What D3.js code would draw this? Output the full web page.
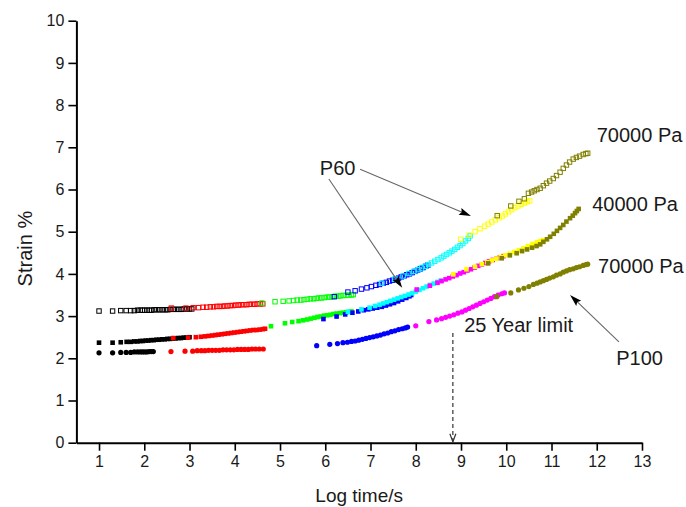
<!DOCTYPE html>
<html><head><meta charset="utf-8">
<script src="https://cdn.jsdelivr.net/npm/d3@7"></script>
<style>
body{margin:0;background:#fff}
svg{display:block}
text{font-family:"Liberation Sans",Arial,sans-serif;fill:#1a1a1a}
</style>
</head><body><svg id="c" width="686" height="507"></svg>
<script>
// ---------------- DATA (log time, strain %) ----------------
const xTicks = [1,2,3,4,5,6,7,8,9,10,11,12,13];
const xMinorTicks = [1.5,2.5,3.5,4.5,5.5,6.5,7.5,8.5,9.5,10.5,11.5,12.5];
const yTicks = [0,1,2,3,4,5,6,7,8,9,10];
const yMinorTicks = [0.5,1.5,2.5,3.5,4.5,5.5,6.5,7.5,8.5,9.5];

// P60, 70000 Pa (hollow squares)
const p60hi_black = [[1.00,3.12],[1.30,3.12],[1.48,3.13],[1.60,3.13],[1.70,3.13],[1.78,3.13],[1.85,3.14],[1.91,3.14],[1.96,3.14],[2.01,3.14],[2.06,3.14],[2.11,3.14],[2.16,3.14],[2.22,3.15],[2.28,3.15],[2.34,3.15],[2.40,3.15],[2.46,3.15],[2.52,3.15],[2.58,3.16],[2.64,3.16],[2.70,3.16],[2.76,3.16],[2.82,3.16],[2.88,3.17],[2.94,3.17],[3.00,3.17],[3.05,3.17]];
const p60hi_red = [[2.60,3.19],[2.92,3.19],[3.08,3.20],[3.20,3.20],[3.30,3.21],[3.38,3.21],[3.46,3.22],[3.53,3.22],[3.60,3.23],[3.66,3.23],[3.72,3.23],[3.78,3.24],[3.84,3.24],[3.90,3.25],[3.96,3.25],[4.02,3.26],[4.08,3.26],[4.14,3.27],[4.20,3.27],[4.26,3.27],[4.32,3.28],[4.38,3.28],[4.44,3.28],[4.50,3.29],[4.56,3.29],[4.62,3.29]];
const p60hi_green = [[4.60,3.31],[4.89,3.34],[5.07,3.35],[5.20,3.36],[5.30,3.37],[5.38,3.38],[5.46,3.38],[5.53,3.39],[5.60,3.40],[5.67,3.41],[5.74,3.41],[5.80,3.42],[5.86,3.43],[5.92,3.43],[5.98,3.44],[6.04,3.45],[6.10,3.45],[6.16,3.46],[6.22,3.47],[6.28,3.47],[6.34,3.48],[6.40,3.49],[6.46,3.49],[6.52,3.50],[6.58,3.50],[6.62,3.51]];
const p60hi_blue = [[6.20,3.46],[6.50,3.57],[6.66,3.60],[6.80,3.64],[6.92,3.67],[7.02,3.70],[7.12,3.73],[7.20,3.75],[7.28,3.78],[7.35,3.80],[7.42,3.83],[7.49,3.85],[7.56,3.88],[7.62,3.90],[7.68,3.93],[7.74,3.95],[7.80,3.98],[7.86,4.00],[7.92,4.03],[7.98,4.06],[8.04,4.09],[8.10,4.12],[8.16,4.15],[8.22,4.18],[8.27,4.21]];
const p60hi_cyan = [[7.25,3.78],[7.54,3.88],[7.72,3.95],[7.85,4.01],[7.96,4.06],[8.05,4.10],[8.13,4.14],[8.21,4.18],[8.28,4.22],[8.35,4.26],[8.42,4.30],[8.49,4.34],[8.56,4.38],[8.62,4.42],[8.68,4.46],[8.74,4.50],[8.80,4.54],[8.86,4.58],[8.92,4.63],[8.98,4.67],[9.04,4.72],[9.10,4.78],[9.16,4.84],[9.20,4.90]];
const p60hi_yellow = [[8.99,4.82],[9.18,4.92],[9.31,5.00],[9.42,5.07],[9.52,5.13],[9.60,5.18],[9.68,5.23],[9.76,5.28],[9.84,5.33],[9.91,5.37],[9.98,5.42],[10.05,5.47],[10.12,5.52],[10.19,5.57],[10.26,5.61],[10.33,5.65],[10.40,5.68],[10.46,5.71],[10.52,5.73]];
const p60hi_olive = [[9.80,5.38],[10.10,5.61],[10.28,5.72],[10.40,5.78],[10.49,5.91],[10.56,5.94],[10.62,5.97],[10.68,6.00],[10.75,6.03],[10.82,6.09],[10.89,6.15],[10.96,6.20],[11.04,6.26],[11.11,6.33],[11.19,6.41],[11.26,6.50],[11.33,6.58],[11.40,6.65],[11.48,6.72],[11.55,6.76],[11.62,6.79],[11.70,6.83],[11.76,6.85],[11.80,6.86]];

// P60, 40000 Pa (filled squares)
const p60lo_black = [[1.00,2.37],[1.30,2.37],[1.48,2.38],[1.61,2.39],[1.70,2.39],[1.78,2.40],[1.85,2.40],[1.91,2.41],[1.97,2.41],[2.03,2.42],[2.09,2.42],[2.15,2.43],[2.21,2.43],[2.27,2.44],[2.33,2.44],[2.39,2.45],[2.45,2.45],[2.51,2.46],[2.57,2.46],[2.63,2.47],[2.69,2.47],[2.75,2.48],[2.81,2.48],[2.87,2.49],[2.93,2.49],[3.00,2.50]];
const p60lo_red = [[2.64,2.48],[2.97,2.49],[3.14,2.50],[3.25,2.51],[3.34,2.52],[3.42,2.53],[3.50,2.54],[3.57,2.55],[3.64,2.56],[3.71,2.57],[3.78,2.58],[3.85,2.59],[3.92,2.60],[3.99,2.61],[4.06,2.62],[4.13,2.63],[4.20,2.64],[4.27,2.65],[4.34,2.66],[4.41,2.67],[4.48,2.67],[4.55,2.68],[4.62,2.69],[4.67,2.70]];
const p60lo_green = [[4.80,2.76],[5.11,2.83],[5.27,2.86],[5.41,2.88],[5.51,2.90],[5.60,2.92],[5.68,2.94],[5.76,2.96],[5.83,2.98],[5.90,2.99],[5.97,3.01],[6.04,3.02],[6.11,3.03],[6.18,3.05],[6.25,3.06],[6.32,3.07],[6.39,3.08],[6.46,3.09],[6.52,3.10],[6.58,3.11]];
const p60lo_blue = [[5.96,2.93],[6.25,2.99],[6.44,3.04],[6.60,3.08],[6.73,3.11],[6.85,3.14],[6.95,3.16],[7.05,3.18],[7.15,3.20],[7.25,3.22],[7.34,3.25],[7.43,3.28],[7.52,3.31],[7.61,3.35],[7.70,3.39],[7.79,3.43],[7.86,3.47],[7.90,3.50]];
const p60lo_cyan = [[6.50,3.10],[6.80,3.16],[6.98,3.20],[7.10,3.24],[7.20,3.27],[7.28,3.30],[7.36,3.33],[7.44,3.36],[7.52,3.39],[7.60,3.42],[7.68,3.45],[7.76,3.48],[7.84,3.51],[7.92,3.54],[8.00,3.58],[8.08,3.62],[8.16,3.66],[8.24,3.70],[8.32,3.74],[8.40,3.77],[8.48,3.81],[8.55,3.84]];
const p60lo_magenta = [[8.02,3.63],[8.31,3.72],[8.48,3.79],[8.57,3.83],[8.66,3.87],[8.74,3.90],[8.82,3.94],[8.90,3.97],[8.98,4.01],[9.06,4.04],[9.14,4.08],[9.22,4.11],[9.30,4.15],[9.38,4.19],[9.46,4.22],[9.54,4.26],[9.62,4.30],[9.70,4.33],[9.78,4.36],[9.86,4.39],[9.94,4.42]];
const p60lo_yellow = [[8.83,3.99],[9.12,4.11],[9.31,4.17],[9.46,4.23],[9.58,4.28],[9.68,4.32],[9.78,4.36],[9.88,4.40],[9.98,4.44],[10.08,4.48],[10.18,4.52],[10.28,4.56],[10.38,4.61],[10.48,4.66],[10.58,4.71],[10.68,4.75],[10.76,4.78],[10.82,4.80]];
const p60lo_olive = [[9.60,4.25],[9.90,4.37],[10.08,4.44],[10.23,4.49],[10.35,4.54],[10.46,4.58],[10.57,4.62],[10.67,4.66],[10.75,4.70],[10.82,4.76],[10.90,4.82],[10.97,4.88],[11.05,4.95],[11.12,5.02],[11.19,5.09],[11.26,5.16],[11.33,5.24],[11.41,5.32],[11.47,5.38],[11.52,5.44],[11.56,5.49],[11.60,5.54]];

// P100, 70000 Pa (filled circles)
const p100_black = [[1.00,2.13],[1.30,2.13],[1.48,2.14],[1.60,2.14],[1.70,2.14],[1.78,2.15],[1.85,2.15],[1.91,2.15],[1.96,2.15],[2.01,2.15],[2.06,2.15],[2.11,2.16],[2.16,2.16],[2.20,2.16]];
const p100_red = [[2.59,2.16],[2.90,2.17],[3.07,2.17],[3.17,2.18],[3.26,2.18],[3.34,2.18],[3.42,2.19],[3.50,2.19],[3.58,2.19],[3.66,2.19],[3.74,2.20],[3.82,2.20],[3.90,2.20],[3.98,2.20],[4.06,2.21],[4.14,2.21],[4.22,2.21],[4.30,2.21],[4.38,2.22],[4.46,2.22],[4.54,2.22],[4.63,2.22]];
const p100_blue = [[5.81,2.30],[6.10,2.33],[6.27,2.35],[6.39,2.37],[6.49,2.38],[6.58,2.40],[6.66,2.41],[6.74,2.43],[6.82,2.45],[6.90,2.47],[6.98,2.49],[7.06,2.51],[7.14,2.53],[7.22,2.55],[7.30,2.58],[7.38,2.60],[7.46,2.63],[7.54,2.65],[7.62,2.68],[7.70,2.70],[7.77,2.72],[7.82,2.74]];
const p100_magenta = [[8.00,2.77],[8.29,2.87],[8.46,2.91],[8.57,2.94],[8.66,2.97],[8.75,3.00],[8.84,3.03],[8.93,3.07],[9.02,3.10],[9.10,3.14],[9.18,3.18],[9.26,3.22],[9.34,3.26],[9.42,3.30],[9.50,3.34],[9.58,3.38],[9.66,3.42],[9.74,3.46],[9.82,3.50],[9.90,3.53],[9.96,3.55]];
const p100_olive = [[9.79,3.46],[10.10,3.55],[10.27,3.62],[10.39,3.66],[10.50,3.70],[10.60,3.75],[10.68,3.78],[10.75,3.81],[10.82,3.84],[10.89,3.87],[10.96,3.90],[11.04,3.93],[11.11,3.97],[11.19,4.00],[11.26,4.04],[11.33,4.07],[11.40,4.10],[11.48,4.12],[11.55,4.15],[11.62,4.17],[11.70,4.20],[11.76,4.22],[11.80,4.23]];

// Annotation texts (positions in data units: x = log time, y = strain)
const labelTexts = ["70000 Pa","40000 Pa","70000 Pa","P60","25 Year limit","P100"];
const labelX = [12.0, 11.9, 12.03, 5.88, 9.07, 12.43];
const labelY = [7.13, 5.49, 4.02, 6.34, 2.62, 1.84];
// Arrows [x1,y1,x2,y2] in data units
const arrowsP60 = [[6.77,6.48,9.22,5.37],[6.08,6.25,7.70,3.67]];
const arrowsP100 = [[12.49,2.39,11.41,3.50]];
const limitX = 8.82, limitTop = 2.6;

// ---------------- STYLES ----------------
const colors = {black:"#000000", red:"#ff0000", green:"#00ff00", blue:"#0000ff",
  cyan:"#00ffff", magenta:"#ff00ff", yellow:"#ffff00", olive:"#808000"};

const curves = [
  {marker:"hollow", segs:[["black",p60hi_black],["red",p60hi_red],["green",p60hi_green],["blue",p60hi_blue],["cyan",p60hi_cyan],["yellow",p60hi_yellow],["olive",p60hi_olive]]},
  {marker:"square", segs:[["black",p60lo_black],["red",p60lo_red],["green",p60lo_green],["blue",p60lo_blue],["cyan",p60lo_cyan],["magenta",p60lo_magenta],["yellow",p60lo_yellow],["olive",p60lo_olive]]},
  {marker:"circle", segs:[["black",p100_black],["red",p100_red],["blue",p100_blue],["magenta",p100_magenta],["olive",p100_olive]]}
];

// ---------------- CHART ----------------
const svg = d3.select("#c");
const x = d3.scaleLinear().domain([0.5,13]).range([76.4,642]);
const y = d3.scaleLinear().domain([0,10]).range([442.7,20.7]);

// axes
const gx = svg.append("g").attr("transform",`translate(0,${y(0)})`);
gx.call(d3.axisBottom(x).tickValues(xMinorTicks).tickSize(4).tickSizeOuter(0).tickFormat(""));
gx.call(d3.axisBottom(x).tickValues(xTicks).tickSize(8).tickSizeOuter(0).tickPadding(5).tickFormat(d3.format("d")));
const gy = svg.append("g").attr("transform",`translate(${x(0.5)},0)`);
gy.call(d3.axisLeft(y).tickValues(yMinorTicks).tickSize(4).tickSizeOuter(0).tickFormat(""));
gy.call(d3.axisLeft(y).tickValues(yTicks).tickSize(8).tickSizeOuter(0).tickPadding(4).tickFormat(d3.format("d")));
svg.selectAll(".domain").attr("stroke","#000").attr("stroke-width",2);
svg.selectAll(".tick line").attr("stroke","#000").attr("stroke-width",1.6);
svg.selectAll(".tick text").attr("font-size",16).attr("font-family",'"Liberation Sans",Arial,sans-serif').attr("fill","#1a1a1a");

// axis titles
svg.append("text").attr("x",(x(0.5)+x(13))/2).attr("y",502).attr("text-anchor","middle").attr("font-size",19).text("Log time/s");
svg.append("text").attr("transform",`translate(32,${y(4.6)}) rotate(-90)`).attr("text-anchor","middle").attr("font-size",20).text("Strain %");

// data markers
const gp = svg.append("g");
curves.forEach(c=>{
  c.segs.forEach(([col,data])=>{
    const g = gp.append("g");
    if(c.marker==="circle"){
      g.selectAll("circle").data(data).join("circle")
        .attr("cx",d=>x(d[0])).attr("cy",d=>y(d[1])).attr("r",2.6).attr("fill",colors[col]);
    } else if(c.marker==="square"){
      g.selectAll("rect").data(data).join("rect")
        .attr("x",d=>x(d[0])-2.3).attr("y",d=>y(d[1])-2.3).attr("width",4.6).attr("height",4.6).attr("fill",colors[col]);
    } else {
      g.selectAll("rect").data(data).join("rect")
        .attr("x",d=>x(d[0])-2.2).attr("y",d=>y(d[1])-2.2).attr("width",4.4).attr("height",4.4)
        .attr("fill","none").attr("stroke",colors[col]).attr("stroke-width",1);
    }
  });
});

// arrows
function arrow(a, lineCol){
  const x1=x(a[0]), y1=y(a[1]), x2=x(a[2]), y2=y(a[3]);
  const ang=Math.atan2(y2-y1,x2-x1), L=12, Wd=3.6;
  const bx=x2-L*Math.cos(ang), by=y2-L*Math.sin(ang);
  svg.append("line").attr("x1",x1).attr("y1",y1).attr("x2",bx+3*Math.cos(ang)).attr("y2",by+3*Math.sin(ang))
    .attr("stroke",lineCol).attr("stroke-width",1.1);
  svg.append("path").attr("d",`M${x2},${y2}L${bx-Wd*Math.sin(ang)},${by+Wd*Math.cos(ang)}L${bx+2*Math.cos(ang)},${by+2*Math.sin(ang)}L${bx+Wd*Math.sin(ang)},${by-Wd*Math.cos(ang)}Z`)
    .attr("fill","#000");
}
arrowsP60.forEach(a=>arrow(a,"#666"));
arrowsP100.forEach(a=>arrow(a,"#666"));

// 25-year limit dashed arrow
svg.append("line").attr("x1",x(limitX)).attr("x2",x(limitX)).attr("y1",y(limitTop)).attr("y2",y(0)-1)
  .attr("stroke","#333").attr("stroke-width",1.2).attr("stroke-dasharray","4,3");
svg.append("path").attr("d",`M${x(limitX)-3},${y(0)-9}L${x(limitX)},${y(0)-1}L${x(limitX)+3},${y(0)-9}`)
  .attr("fill","none").attr("stroke","#333").attr("stroke-width",1.2);

// labels
labelTexts.forEach((t,i)=>{
  svg.append("text").attr("x",x(labelX[i])).attr("y",y(labelY[i])).attr("font-size",20).text(t);
});
</script>
</body></html>
